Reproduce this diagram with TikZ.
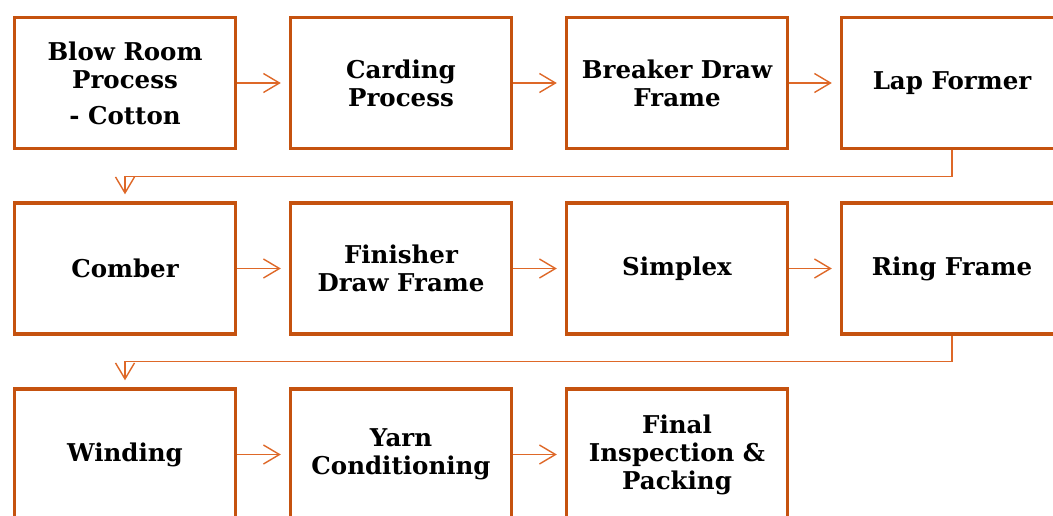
\documentclass[tikz,border=0pt]{standalone}
\usepackage{fontspec}
\setmainfont{DejaVu Serif}
\usetikzlibrary{arrows.meta}
\definecolor{boxline}{RGB}{197,82,15}
\definecolor{arrowline}{RGB}{222,104,40}
\tikzset{
  stage/.style={draw=boxline, line width=3.4pt, fill=white,
    minimum width=221pt, minimum height=131pt, inner sep=0pt,
    align=center, font=\fontsize{24.5}{28}\selectfont\bfseries},
  flow/.style={draw=arrowline, line width=1.4pt,
    -{Straight Barb[length=16pt,width=19pt,line width=1.4pt]}},
  ahead/.style={flow, shorten >=8pt},
  wrap/.style={flow, shorten >=7pt}
}
\begin{document}
\begin{tikzpicture}[x=1pt,y=-1pt]
  \useasboundingbox (0,0) rectangle (1053,515);
  % first row
  \node[stage] (blow)    at (125,83)  {Blow Room\\Process\\[8pt]- Cotton};
  \node[stage] (card)    at (401,83)  {Carding\\Process};
  \node[stage] (breaker) at (677,83)  {Breaker Draw\\Frame};
  \node[stage] (lap)     at (952,83)  {Lap Former};
  % second row
  \node[stage] (comber)  at (125,268.5) {Comber};
  \node[stage] (finish)  at (401,268.5) {Finisher\\Draw Frame};
  \node[stage] (simplex) at (677,268.5) {Simplex};
  \node[stage] (ring)    at (952,268.5) {Ring Frame};
  % third row
  \node[stage] (wind)    at (125,454.5) {Winding};
  \node[stage] (yarn)    at (401,454.5) {Yarn\\Conditioning};
  \node[stage] (final)   at (677,454.5) {Final\\Inspection \&\\Packing};
  % arrows along each row
  \draw[ahead] (blow.east) -- (card.west);
  \draw[ahead] (card.east) -- (breaker.west);
  \draw[ahead] (breaker.east) -- (lap.west);
  \draw[ahead] (comber.east) -- (finish.west);
  \draw[ahead] (finish.east) -- (simplex.west);
  \draw[ahead] (simplex.east) -- (ring.west);
  \draw[ahead] (wind.east) -- (yarn.west);
  \draw[ahead] (yarn.east) -- (final.west);
  % returns to the start of the next row
  \draw[wrap] (lap.south) -- ++(0,26) -| (comber.north);
  \draw[wrap] (ring.south) -- ++(0,26) -| (wind.north);
\end{tikzpicture}
\end{document}
